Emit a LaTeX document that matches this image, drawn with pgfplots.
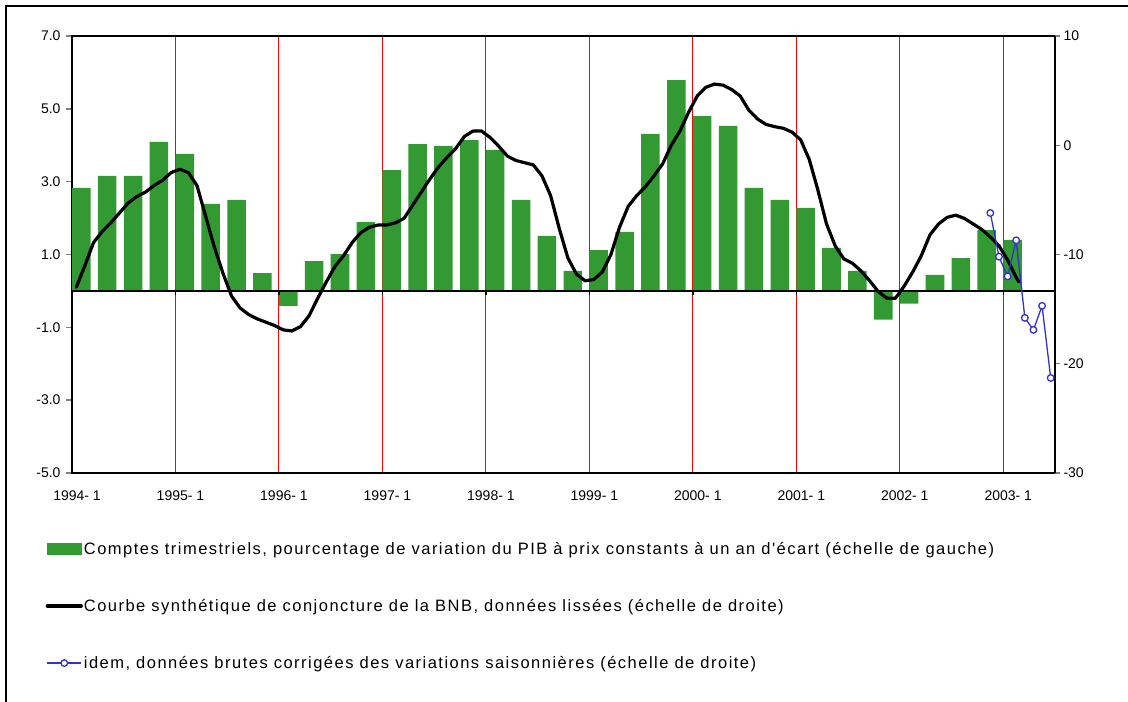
\documentclass[border=0pt]{standalone}
\usepackage{fontspec}
\setmainfont{Liberation Sans}
\newfontfamily\legfont[LetterSpace=9]{Liberation Sans}
\usepackage{pgfplots}
\usepackage{pgfplotstable}
\pgfplotsset{compat=1.18}

\definecolor{barg}{RGB}{51,153,51}
\definecolor{lblue}{RGB}{51,51,204}

% quarterly GDP growth (left scale); x = months since 1994-1, bar centre
\pgfplotstableread{
x y
1.08 2.83
4.08 3.16
7.08 3.16
10.08 4.09
13.08 3.76
16.08 2.39
19.08 2.50
22.08 0.49
25.08 -0.41
28.08 0.82
31.08 1.01
34.08 1.89
37.08 3.32
40.08 4.03
43.08 3.98
46.08 4.14
49.08 3.87
52.08 2.50
55.08 1.51
58.08 0.55
61.08 1.12
64.08 1.62
67.08 4.31
70.08 5.79
73.08 4.80
76.08 4.53
79.08 2.83
82.08 2.50
85.08 2.28
88.08 1.18
91.08 0.55
94.08 -0.79
97.08 -0.35
100.08 0.44
103.08 0.90
106.08 1.67
109.08 1.40
}\bars

% smoothed BNB business survey indicator (right scale)
\pgfplotstableread{
x y
0.5 -13.0
1.5 -11.0
2.5 -8.9
3.5 -7.9
4.5 -7.1
5.5 -6.2
6.5 -5.3
7.5 -4.7
8.5 -4.3
9.5 -3.7
10.5 -3.2
11.5 -2.5
12.5 -2.2
13.5 -2.5
14.5 -3.7
15.5 -6.5
16.5 -9.3
17.5 -11.7
18.5 -13.8
19.5 -14.9
20.5 -15.5
21.5 -15.9
22.5 -16.2
23.5 -16.5
24.5 -16.9
25.5 -17.0
26.5 -16.6
27.5 -15.6
28.5 -14.0
29.5 -12.5
30.5 -11.1
31.5 -10.1
32.5 -8.9
33.5 -8.0
34.5 -7.5
35.5 -7.3
36.5 -7.3
37.5 -7.1
38.5 -6.7
39.5 -5.5
40.5 -4.3
41.5 -3.1
42.5 -2.0
43.5 -1.1
44.5 -0.3
45.5 0.8
46.5 1.3
47.5 1.3
48.5 0.7
49.5 -0.1
50.5 -1.0
51.5 -1.4
52.5 -1.6
53.5 -1.8
54.5 -2.8
55.5 -4.6
56.5 -7.6
57.5 -10.3
58.5 -11.8
59.5 -12.4
60.5 -12.3
61.5 -11.6
62.5 -10.0
63.5 -7.5
64.5 -5.6
65.5 -4.6
66.5 -3.8
67.5 -2.8
68.5 -1.7
69.5 0.0
70.5 1.3
71.5 3.0
72.5 4.5
73.5 5.3
74.5 5.6
75.5 5.5
76.5 5.1
77.5 4.5
78.5 3.2
79.5 2.4
80.5 1.9
81.5 1.7
82.5 1.55
83.5 1.2
84.5 0.5
85.5 -1.3
86.5 -4.1
87.5 -7.2
88.5 -9.2
89.5 -10.4
90.5 -10.8
91.5 -11.5
92.5 -12.4
93.5 -13.4
94.5 -14.0
95.5 -14.0
96.5 -12.9
97.5 -11.6
98.5 -10.1
99.5 -8.2
100.5 -7.2
101.5 -6.6
102.5 -6.4
103.5 -6.7
104.5 -7.2
105.5 -7.7
106.5 -8.4
107.5 -9.2
108.5 -10.5
109.5 -12.1
109.8 -12.5
}\smoothed

% raw seasonally adjusted (right scale)
\pgfplotstableread{
x y
106.5 -6.2
107.5 -10.2
108.5 -12.0
109.5 -8.7
110.5 -15.8
111.5 -16.9
112.5 -14.7
113.5 -21.3
}\raw

\begin{document}
\begin{tikzpicture}
\useasboundingbox (0,0) rectangle (1128bp,702bp);
\fill[white] (0,0) rectangle (1128bp,702bp);
\draw[line width=1.3bp] (6bp,0bp) -- (6bp,696bp) -- (1128bp,696bp);

\begin{axis}[
  at={(72bp,229bp)}, anchor=south west,
  scale only axis, width=983bp, height=437bp,
  xmin=0, xmax=114, ymin=-5, ymax=7,
  axis line style={line width=1.6bp},
  ytick={-5,-3,-1,1,3,5,7},
  yticklabels={-5.0,-3.0,-1.0,1.0,3.0,5.0,7.0},
  ytick pos=left, ytick align=outside,
  major tick length=6bp,
  ytick style={line width=1.4bp},
  xtick={0,12,24,36,48,60,72,84,96,108},
  xticklabels={1994- 1,1995- 1,1996- 1,1997- 1,1998- 1,1999- 1,2000- 1,2001- 1,2002- 1,2003- 1},
  xtick style={draw=none},
  xmajorgrids,
  grid style={red, line width=1bp},
  tick label style={font=\fontsize{14bp}{16bp}\selectfont},
  yticklabel style={xshift=-2bp},
  xticklabel style={xshift=5bp, yshift=-14bp},
]
\addplot[ybar, bar width=2.15, bar shift=0pt, fill=barg, draw=none] table {\bars};
\draw[black, line width=1.8bp] (axis cs:0,0) -- (axis cs:114,0);
\pgfplotsinvokeforeach{12,24,36,48,60,72,84,96,108}{
  \draw[black, line width=1.5bp] (axis cs:#1,0) -- ++(0bp,-4.5bp);
}
\end{axis}

\begin{axis}[
  at={(72bp,229bp)}, anchor=south west,
  scale only axis, width=983bp, height=437bp,
  xmin=0, xmax=114, ymin=-30, ymax=10,
  axis x line=none, axis y line*=right,
  axis line style={line width=1.6bp, -},
  ytick={-30,-20,-10,0,10},
  yticklabels={-30,-20,-10,0,10},
  ytick align=outside, major tick length=5bp,
  ytick style={line width=1.4bp},
  tick label style={font=\fontsize{14bp}{16bp}\selectfont},
  legend style={at={(axis description cs:-0.027,-0.155)}, anchor=north west,
    draw=none, fill=none, font=\legfont\fontsize{16.5bp}{19bp}\selectfont,
    row sep=41.5bp, inner sep=0pt, nodes={inner sep=1bp}},
  legend cell align=left,
  legend image code/.code={\draw[mark repeat=2,mark phase=2,#1] plot coordinates {(0bp,0bp) (17bp,0bp) (34bp,0bp)};},
]
\addlegendimage{legend image code/.code={\fill[barg] (0bp,-5.8bp) rectangle (34bp,5.8bp);}}
\addlegendentry{Comptes trimestriels, pourcentage de variation du PIB à prix constants à un an d'écart (échelle de gauche)}
\addplot[black, line width=3.2bp, line join=round, line cap=round, mark=none] table {\smoothed};
\addlegendentry{Courbe synthétique de conjoncture de la BNB, données lissées (échelle de droite)}
\addplot[lblue, line width=1.3bp, mark=*, mark size=3.3bp, mark options={fill=white, draw=lblue, line width=1.3bp}] table {\raw};
\addlegendentry{idem, données brutes corrigées des variations saisonnières (échelle de droite)}
\end{axis}
\end{tikzpicture}
\end{document}
